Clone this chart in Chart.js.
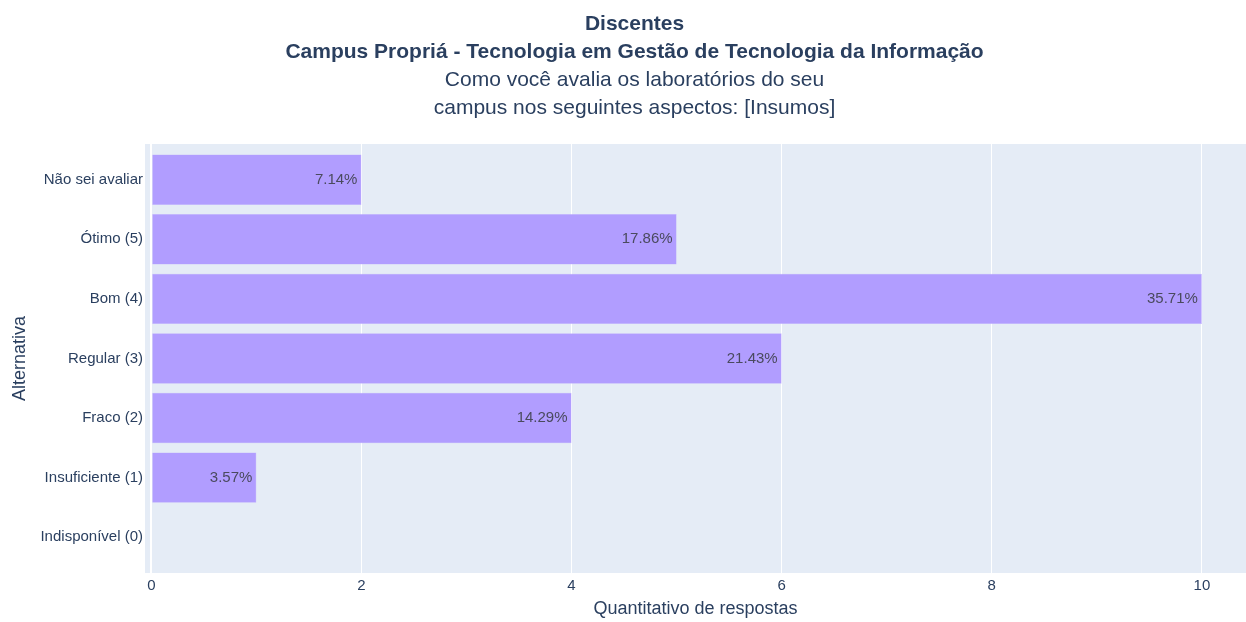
<!DOCTYPE html>
<html>
<head>
<meta charset="utf-8">
<script src="https://cdn.jsdelivr.net/npm/chart.js@4/dist/chart.umd.min.js"></script>
<style>
  html, body { margin: 0; padding: 0; background: #fff; }
  #wrap { width: 1246px; height: 622px; }
</style>
</head>
<body>
<div id="wrap"><canvas id="myChart"></canvas></div>
<script>
// data
var categorias = ['Não sei avaliar', 'Ótimo (5)', 'Bom (4)', 'Regular (3)', 'Fraco (2)', 'Insuficiente (1)', 'Indisponível (0)'];
var respostas = [2, 5, 10, 6, 4, 1, 0];
var xTicks = [0, 2, 4, 6, 8, 10];

var tituloLinhas = ['Discentes', 'Campus Propriá - Tecnologia em Gestão de Tecnologia da Informação'];
var subtituloLinhas = ['Como você avalia os laboratórios do seu', 'campus nos seguintes aspectos: [Insumos]'];

var total = respostas.reduce(function(a, b) { return a + b; }, 0);
var FONTE = "'Liberation Sans', Arial, sans-serif";
var COR_TEXTO = '#2a3f5f';

//bars placed on a numeric y axis (one slot per category) so the range can be padded
var pontos = respostas.map(function(v, i) { return { x: v, y: i }; });

//plot background
var fundoPlot = {
    id: 'fundoPlot',
    beforeDraw: function(chart) {
        var a = chart.chartArea, ctx = chart.ctx;
        ctx.save();
        ctx.fillStyle = '#E5ECF6';
        ctx.fillRect(a.left, a.top, a.right - a.left, a.bottom - a.top);
        ctx.restore();
    }
};

//percent labels inside the bar end
var rotulosBarras = {
    id: 'rotulosBarras',
    afterDatasetsDraw: function(chart) {
        var ctx = chart.ctx;
        var meta = chart.getDatasetMeta(0);
        ctx.save();
        ctx.font = '15px ' + FONTE;
        ctx.fillStyle = '#4a4a5e';
        ctx.textAlign = 'right';
        ctx.textBaseline = 'middle';
        meta.data.forEach(function(bar, i) {
            var v = respostas[i];
            if (!v) return;
            var txt = (v / total * 100).toFixed(2) + '%';
            ctx.fillText(txt, bar.x - 4, bar.y);
        });
        ctx.restore();
    }
};

var ctx = document.getElementById('myChart').getContext('2d');
var myChart = new Chart(ctx, {
    type: 'bar',
    data: {
        labels: categorias,
        datasets: [{
            data: pontos,
            backgroundColor: '#b19dff',
            borderColor: '#c2b2ff',
            borderWidth: 0.5,
            barPercentage: 0.846,
            categoryPercentage: 1.0
        }]
    },
    options: {
        indexAxis: 'y',
        responsive: true,
        maintainAspectRatio: false,
        animation: false,
        layout: { padding: { left: 23, right: 0, top: 0, bottom: 0 } },
        plugins: {
            legend: { display: false },
            tooltip: { enabled: false },
            title: {
                display: true,
                text: tituloLinhas,
                color: COR_TEXTO,
                font: { family: FONTE, size: 21, weight: 'bold', lineHeight: 1.333 },
                padding: { top: 10, bottom: 0 }
            },
            subtitle: {
                display: true,
                text: subtituloLinhas,
                color: COR_TEXTO,
                font: { family: FONTE, size: 21, lineHeight: 1.333 },
                padding: { top: 0, bottom: 22 }
            }
        },
        scales: {
            x: {
                type: 'linear',
                min: -0.06,
                max: 10.42,
                afterBuildTicks: function(scale) {
                    scale.ticks = xTicks.map(function(v) { return { value: v }; });
                },
                afterFit: function(scale) { scale.height = 49; },
                grid: {
                    drawTicks: false,
                    color: '#ffffff',
                    lineWidth: function(c) { return c.tick && c.tick.value === 0 ? 2 : 1; }
                },
                border: { display: false },
                ticks: {
                    color: COR_TEXTO,
                    font: { family: FONTE, size: 15 },
                    padding: 4,
                    maxRotation: 0
                },
                title: {
                    display: true,
                    text: 'Quantitativo de respostas',
                    color: COR_TEXTO,
                    font: { family: FONTE, size: 18 },
                    padding: { top: 2, bottom: 2 }
                }
            },
            y: {
                type: 'linear',
                reverse: true,
                offset: false,
                min: -0.6,
                max: 6.6,
                afterBuildTicks: function(scale) {
                    scale.ticks = categorias.map(function(c, i) { return { value: i }; });
                },
                afterFit: function(scale) { scale.width = 122; },
                grid: { display: false, drawTicks: false, offset: false },
                border: { display: false },
                ticks: {
                    color: COR_TEXTO,
                    font: { family: FONTE, size: 15 },
                    padding: 2,
                    autoSkip: false,
                    callback: function(v) { return categorias[v]; }
                },
                title: {
                    display: true,
                    text: 'Alternativa',
                    color: COR_TEXTO,
                    font: { family: FONTE, size: 18 },
                    padding: { top: -13.8, bottom: 0 }
                }
            }
        }
    },
    plugins: [fundoPlot, rotulosBarras]
});
</script>
</body>
</html>
